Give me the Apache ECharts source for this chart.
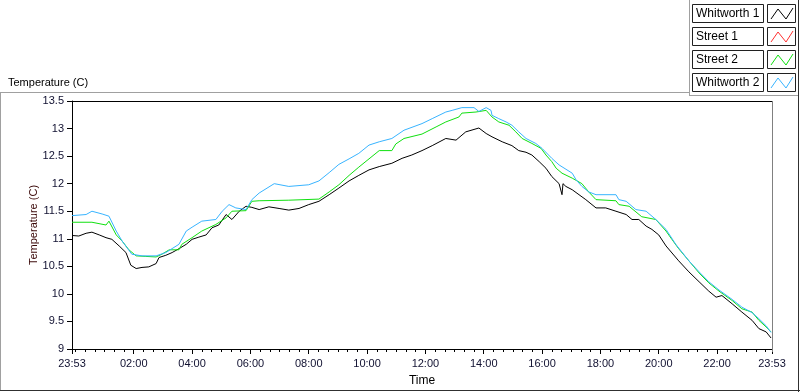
<!DOCTYPE html>
<html><head><meta charset="utf-8">
<script src="https://cdn.jsdelivr.net/npm/echarts@6/dist/echarts.min.js"></script>
<style>html,body{margin:0;padding:0;background:#fff}#c{width:800px;height:392px}</style>
</head><body><div id="c"></div>
<script>
// ---- data (x = minutes after 23:53 start, y = temperature in C) ----
const seriesNames = ['Whitworth 1', 'Street 1', 'Street 2', 'Whitworth 2'];
const seriesColors = ['#000000', '#ff3030', '#10e010', '#38b4ff'];

const whit1Min  = [0,14,29,41,56,70,82,97,111,121,132,144,158,173,179,193,206,220,235,247,261,276,288,302,317,329,344,358,370,385,405,426,446,467,487,508,529,549,570,590,611,632,658,679,699,720,741,769,790,810,837,852,864,885,905,919,934,946,961,975,987,1002,1008,1010,1016,1029,1043,1057,1078,1098,1119,1140,1152,1166,1181,1193,1207,1222,1248,1269,1290,1310,1325,1337,1358,1378,1399,1413,1428,1438];
const whit1Temp = [11.06,11.05,11.10,11.12,11.07,11.02,10.99,10.87,10.75,10.52,10.46,10.48,10.49,10.55,10.66,10.70,10.75,10.82,10.90,10.99,11.03,11.07,11.20,11.25,11.44,11.35,11.50,11.59,11.57,11.53,11.58,11.55,11.52,11.55,11.62,11.68,11.80,11.92,12.05,12.15,12.25,12.31,12.37,12.46,12.52,12.60,12.69,12.82,12.79,12.94,13.01,12.91,12.85,12.76,12.69,12.60,12.57,12.52,12.40,12.28,12.13,12.00,11.80,12.00,11.95,11.89,11.80,11.71,11.56,11.56,11.50,11.44,11.35,11.35,11.23,11.17,11.07,10.87,10.60,10.40,10.22,10.05,9.94,9.97,9.82,9.67,9.52,9.37,9.31,9.20];

const street1Min  = [];
const street1Temp = [];

const street2Min  = [0,41,70,76,91,103,117,132,152,173,185,200,220,226,247,267,296,317,329,358,370,385,446,508,529,549,570,590,611,632,658,666,683,720,749,769,796,802,831,852,864,878,899,913,926,946,965,975,987,996,1008,1029,1049,1063,1078,1119,1125,1146,1172,1201,1222,1234,1248,1269,1290,1310,1331,1358,1378,1399,1413,1428,1438];
const street2Temp = [11.30,11.30,11.25,11.32,11.07,10.96,10.80,10.69,10.68,10.67,10.72,10.80,10.80,10.90,11.02,11.14,11.26,11.38,11.50,11.51,11.68,11.69,11.70,11.72,11.85,11.98,12.15,12.30,12.45,12.60,12.60,12.72,12.82,12.90,13.03,13.12,13.21,13.28,13.30,13.33,13.21,13.12,13.06,12.94,12.82,12.73,12.64,12.52,12.40,12.28,12.19,12.10,12.00,11.85,11.71,11.69,11.62,11.59,11.40,11.35,11.14,10.99,10.82,10.60,10.38,10.20,10.05,9.88,9.73,9.67,9.52,9.40,9.31];

const whit2Min  = [0,29,41,62,76,91,103,123,144,173,193,220,235,247,267,296,309,323,337,358,370,385,416,446,487,508,529,549,570,590,611,632,658,683,720,741,769,782,802,827,837,852,862,864,878,893,905,919,934,954,967,987,1002,1029,1037,1049,1063,1078,1119,1125,1140,1160,1181,1201,1222,1242,1269,1290,1310,1331,1358,1378,1399,1413,1428,1438];
const whit2Temp = [11.42,11.44,11.50,11.45,11.41,11.14,10.96,10.72,10.69,10.69,10.75,10.90,11.14,11.21,11.32,11.35,11.50,11.62,11.56,11.53,11.71,11.83,12.00,11.95,11.98,12.05,12.20,12.35,12.45,12.55,12.70,12.76,12.82,12.97,13.09,13.18,13.30,13.33,13.38,13.38,13.31,13.38,13.33,13.24,13.18,13.12,13.06,12.94,12.82,12.73,12.64,12.46,12.34,12.19,12.07,11.95,11.85,11.80,11.80,11.71,11.68,11.53,11.50,11.35,11.17,10.90,10.60,10.40,10.22,10.07,9.90,9.76,9.66,9.55,9.42,9.30];

// axis ticks
const xMajorTicks = [0,127,247,367,487,607,727,847,967,1087,1207,1327,1440];
const xMinorTicks = [];
for (let m = 7; m < 1440; m += 20) xMinorTicks.push(m);
const yMin = 9, yMax = 13.5, yStep = 0.5;
const START_CLOCK = 23 * 60 + 53;

function clock(v) {
  const c = (START_CLOCK + Math.round(v)) % 1440;
  const h = Math.floor(c / 60), m = c % 60;
  return (h < 10 ? '0' : '') + h + ':' + (m < 10 ? '0' : '') + m;
}
function pairs(xs, ys) { return xs.map((x, i) => [x, ys[i]]); }

const FONT = 'Liberation Sans';
const chart = echarts.init(document.getElementById('c'), null, {renderer: 'canvas'});

const dataSets = [pairs(whit1Min, whit1Temp), pairs(street1Min, street1Temp), pairs(street2Min, street2Temp), pairs(whit2Min, whit2Temp)];
const drawOrder = [3, 2, 1, 0];

// legend graphics
const legendGraphics = [];
seriesNames.forEach((name, i) => {
  const top = 4 + 23 * i;
  legendGraphics.push({type: 'rect', shape: {x: 692.5, y: top + 0.5, width: 71, height: 18}, style: {fill: '#fff', stroke: '#202020', lineWidth: 1}, z: 10});
  legendGraphics.push({type: 'text', x: 696, y: top + 10, style: {text: name, fill: '#000', font: '12px ' + FONT, verticalAlign: 'middle'}, z: 11});
  legendGraphics.push({type: 'rect', shape: {x: 767.5, y: top + 0.5, width: 28, height: 18}, style: {fill: '#fff', stroke: '#202020', lineWidth: 1}, z: 10});
  legendGraphics.push({type: 'polyline', shape: {points: [[771, top + 15], [778, top + 5], [786, top + 15], [793, top + 4]]}, style: {stroke: seriesColors[i], lineWidth: 1, fill: null}, z: 11});
});

const frame = [
  {type: 'line', shape: {x1: 0, y1: 92.5, x2: 690, y2: 92.5}, style: {stroke: '#a0a0a0', lineWidth: 1}},
  {type: 'line', shape: {x1: 0.5, y1: 92, x2: 0.5, y2: 391}, style: {stroke: '#a0a0a0', lineWidth: 1}},
  {type: 'line', shape: {x1: 0, y1: 390.5, x2: 800, y2: 390.5}, style: {stroke: '#303030', lineWidth: 1}},
  {type: 'line', shape: {x1: 689.5, y1: 0, x2: 689.5, y2: 95}, style: {stroke: '#a0a0a0', lineWidth: 1}},
  {type: 'line', shape: {x1: 689, y1: 95.5, x2: 798, y2: 95.5}, style: {stroke: '#a0a0a0', lineWidth: 1}},
  {type: 'line', shape: {x1: 798.5, y1: 0, x2: 798.5, y2: 392}, style: {stroke: '#303030', lineWidth: 1}},
  {type: 'line', shape: {x1: 72, y1: 101.5, x2: 772, y2: 101.5}, style: {stroke: '#000', lineWidth: 1}, z: 5},
  {type: 'line', shape: {x1: 772.5, y1: 101, x2: 772.5, y2: 352}, style: {stroke: '#808080', lineWidth: 1}, z: 5}
];

chart.setOption({
  animation: false,
  backgroundColor: '#ffffff',
  title: {text: 'Temperature (C)', left: 3, top: 72, textStyle: {fontFamily: FONT, fontSize: 11, fontWeight: 'normal', color: '#000'}},
  grid: {left: 72, right: 28, top: 101, bottom: 40, show: true, backgroundColor: '#fff', borderWidth: 0},
  xAxis: [{
    type: 'value', min: 0, max: 1440, gridIndex: 0,
    name: 'Time', nameLocation: 'middle', nameGap: 26, nameMoveOverlap: false,
    nameTextStyle: {fontFamily: FONT, fontSize: 12, color: '#000'},
    axisLine: {lineStyle: {color: '#000', width: 1}},
    axisTick: {show: true, length: 5, customValues: xMajorTicks, lineStyle: {color: '#000'}},
    axisLabel: {customValues: xMajorTicks, formatter: clock, fontFamily: FONT, fontSize: 11, color: '#101030', margin: 9, showMinLabel: true, showMaxLabel: true},
    splitLine: {show: false}
  }, {
    type: 'value', min: 0, max: 1440, gridIndex: 0, position: 'bottom',
    axisLine: {show: false},
    axisTick: {show: true, length: 3, customValues: xMinorTicks, lineStyle: {color: '#000'}},
    axisLabel: {show: false},
    splitLine: {show: false}
  }],
  yAxis: {
    type: 'value', min: yMin, max: yMax, interval: yStep,
    name: 'Temperature (C)', nameLocation: 'middle', nameGap: 33, nameRotate: 90, nameMoveOverlap: false,
    nameTextStyle: {fontFamily: FONT, fontSize: 11, color: '#3a0808'},
    axisLine: {show: true, lineStyle: {color: '#000', width: 1}},
    axisTick: {show: true, length: 5, lineStyle: {color: '#000'}},
    axisLabel: {fontFamily: FONT, fontSize: 11, color: '#101030', margin: 8},
    splitLine: {show: false}
  },
  series: drawOrder.map(i => ({
    name: seriesNames[i], type: 'line', data: dataSets[i], xAxisIndex: 0,
    showSymbol: false, symbol: 'none', lineStyle: {color: seriesColors[i], width: 1},
    itemStyle: {color: seriesColors[i]}, z: 3 + (3 - drawOrder.indexOf(i))
  })),
  graphic: frame.concat(legendGraphics)
});
</script></body></html>
